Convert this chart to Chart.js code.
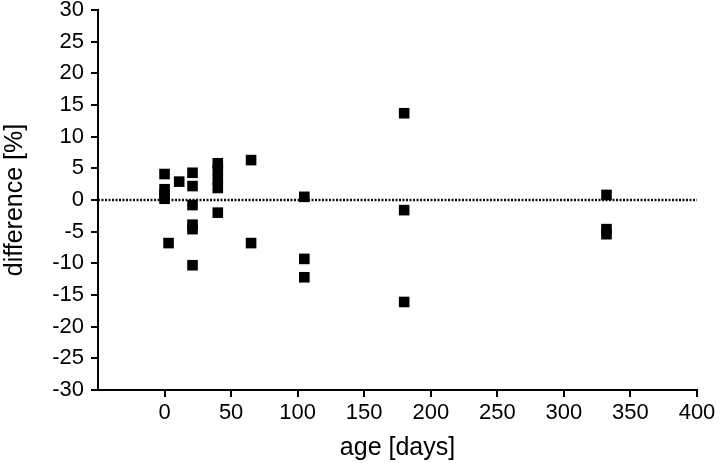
<!DOCTYPE html>
<html>
<head>
<meta charset="utf-8">
<style>
  html, body { margin: 0; padding: 0; background: #fff; }
  #c { display: block; }
</style>
<script src="https://cdn.jsdelivr.net/npm/chart.js@4/dist/chart.umd.min.js"></script>
</head>
<body>
<canvas id="c" width="720" height="463"></canvas>
<script>
// age in days
const ageDays = [0, 0, 0, 0, 3, 11,
  21, 21, 21, 21, 21, 21,
  40, 40, 40, 40, 40,
  65, 65,
  105, 105, 105,
  180, 180, 180,
  332, 332, 332];
// difference in percent
const differencePct = [4.1, 1.7, 0.9, 0.2, -6.8, 2.9,
  4.3, 2.2, -0.8, -3.9, -4.6, -10.3,
  5.8, 4.7, 3.2, 1.9, -2.0,
  6.3, -6.8,
  0.5, -9.3, -12.2,
  13.7, -1.6, -16.1,
  0.8, -4.6, -5.4];
const xTickValues = [0, 50, 100, 150, 200, 250, 300, 350, 400];
const yTickValues = [-30, -25, -20, -15, -10, -5, 0, 5, 10, 15, 20, 25, 30];
const zeroLineX = [-50, 400];

const FONT = "'Liberation Sans', Arial, Helvetica, sans-serif";

const points = ageDays.map((x, i) => ({ x: x, y: differencePct[i] }));
const zeroLine = zeroLineX.map(x => ({ x: x, y: 0 }));

new Chart(document.getElementById('c'), {
  type: 'scatter',
  data: {
    datasets: [
      {
        type: 'line',
        data: zeroLine,
        borderColor: '#111',
        borderWidth: 2.5,
        borderDash: [2, 1.5],
        pointRadius: 0,
        fill: false,
        order: 2
      },
      {
        data: points,
        pointStyle: 'rect',
        pointRadius: 7.5,
        pointHoverRadius: 7.5,
        backgroundColor: '#000',
        borderColor: '#000',
        borderWidth: 0,
        order: 1
      }
    ]
  },
  options: {
    responsive: false,
    animation: false,
    layout: { padding: { left: 0, right: 23, top: 0, bottom: 0 } },
    plugins: { legend: { display: false }, tooltip: { enabled: false } },
    scales: {
      x: {
        type: 'linear',
        min: -50,
        max: 400,
        afterBuildTicks: s => { s.ticks = xTickValues.map(v => ({ value: v })); },
        afterFit: s => { s.height = 73; s.paddingLeft = 0; s.paddingRight = 0; },
        grid: { display: true, drawOnChartArea: false, drawTicks: true, tickLength: 7, color: '#000', lineWidth: 2 },
        border: { display: true, color: '#000', width: 2 },
        ticks: { color: '#000', font: { family: FONT, size: 22 }, padding: 3, maxRotation: 0, callback: v => String(v) },
        title: { display: true, text: 'age [days]', color: '#000', font: { family: FONT, size: 25 }, padding: 0 }
      },
      y: {
        type: 'linear',
        min: -30,
        max: 30,
        afterBuildTicks: s => { s.ticks = yTickValues.map(v => ({ value: v })); },
        afterFit: s => { s.width = 98; s.paddingTop = 10; s.paddingBottom = 0; },
        grid: { display: true, drawOnChartArea: false, drawTicks: true, tickLength: 7, color: '#000', lineWidth: 2 },
        border: { display: true, color: '#000', width: 2 },
        ticks: { color: '#000', font: { family: FONT, size: 22 }, padding: 7, callback: v => String(v) },
        title: { display: true, text: 'difference [%]', color: '#000', font: { family: FONT, size: 25 }, padding: 0 }
      }
    }
  }
});
</script>
</body>
</html>
